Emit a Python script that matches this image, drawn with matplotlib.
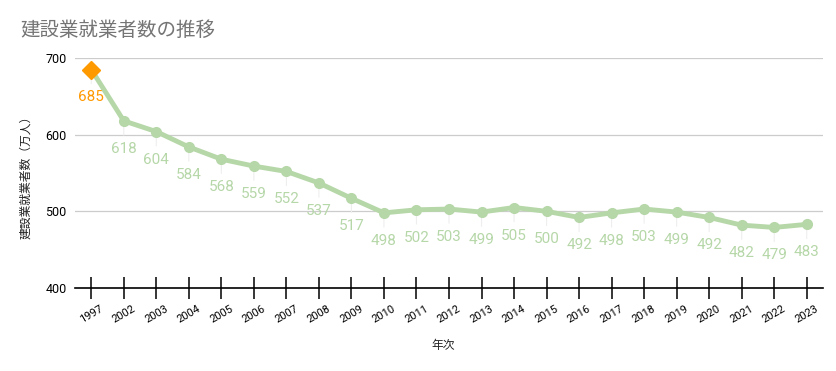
import matplotlib
matplotlib.use("Agg")
import matplotlib.pyplot as plt

plt.rcParams['font.family'] = ['Noto Sans CJK JP', 'DejaVu Sans']

years = ["1997", "2002", "2003", "2004", "2005", "2006", "2007", "2008", "2009",
         "2010", "2011", "2012", "2013", "2014", "2015", "2016", "2017", "2018",
         "2019", "2020", "2021", "2022", "2023"]
workers = [685, 618, 604, 584, 568, 559, 552, 537, 517,
           498, 502, 503, 499, 505, 500, 492, 498, 503,
           499, 492, 482, 479, 483]
yticks = [400, 500, 600, 700]

green = "#b6d7a8"
orange = "#ff9900"

fig = plt.figure(figsize=(8.37, 3.71), dpi=100)
ax = fig.add_axes([75/837, 1-288/371, (823-75)/837, (288-58)/371])

x = list(range(len(years)))
ax.plot(x, workers, color=green, lw=3.5, marker="o", ms=7, zorder=3,
        solid_capstyle="round")
ax.plot(x[0], workers[0], marker="D", color=orange, ms=9, zorder=4, linestyle="none")

for i, v in enumerate(workers):
    c = orange if i == 0 else green
    ax.annotate(str(v), (i, v), xytext=(0, -28), textcoords="offset pixels",
                ha="center", va="center", fontsize=11, color=c,
                family=["Roboto", "DejaVu Sans"], zorder=2)
    ax.annotate("", (i, v), xytext=(0, -17), textcoords="offset pixels",
                arrowprops=dict(arrowstyle="-", color="#eeeeee", lw=0.8), zorder=1)

ax.set_xlim(-0.5, len(years) - 0.5)
ax.set_ylim(400, 700)
ax.set_yticks(yticks)
ax.set_yticklabels([str(t) for t in yticks], fontsize=9, family=["Roboto", "DejaVu Sans"])
ax.set_xticks(x)
ax.set_xticklabels(years, rotation=30, fontsize=8, family=["Roboto", "DejaVu Sans"],
                   ha="center")
ax.tick_params(axis="y", length=0, pad=6)
ax.tick_params(axis="x", direction="inout", length=16, width=1.1, color="black", pad=3)

for t in yticks[1:]:
    ax.axhline(t, color="#cccccc", lw=0.9, zorder=0)

for s in ["top", "right", "left"]:
    ax.spines[s].set_visible(False)
ax.spines["bottom"].set_color("black")
ax.spines["bottom"].set_linewidth(1.2)
ax.spines["bottom"].set_zorder(5)

fig.text(20/837, 1-30/371, "建設業就業者数の推移", fontsize=14, color="#757575",
         va="center", ha="left")
fig.text(26/837, 1-174/371, "建設業就業者数（万人）", fontsize=8.5, rotation=90,
         va="center", ha="center", color="#222222")
fig.text(443/837, 1-346/371, "年次", fontsize=8.5, va="center", ha="center", color="#222222")

fig.savefig("out.png", dpi=100)
